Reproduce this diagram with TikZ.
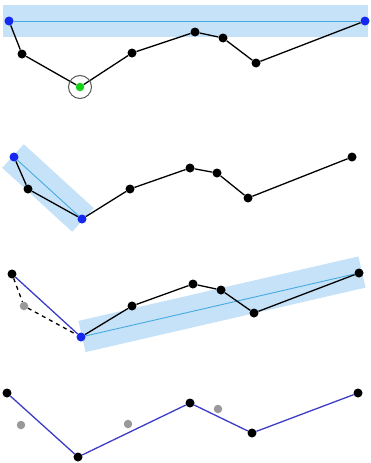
\documentclass[tikz,border=0pt]{standalone}
\definecolor{bandcol}{RGB}{198,226,248}
\definecolor{cyanline}{RGB}{70,170,225}
\definecolor{dotblue}{RGB}{20,40,240}
\definecolor{edgeblue}{RGB}{60,60,200}
\definecolor{dotgreen}{RGB}{20,210,20}
\begin{document}
\begin{tikzpicture}[x=1pt,y=-1pt,
  dot/.style={circle,fill=black,inner sep=0pt,minimum size=9pt},
  bdot/.style={circle,fill=dotblue,inner sep=0pt,minimum size=9pt},
  gdot/.style={circle,fill=black!40,inner sep=0pt,minimum size=8.5pt},
  grdot/.style={circle,fill=dotgreen,inner sep=0pt,minimum size=8.5pt},
  edge/.style={draw=black,line width=1.3pt},
  bedge/.style={draw=edgeblue,line width=1.3pt},
  cedge/.style={draw=cyanline,line width=0.9pt},
  band/.style={draw=bandcol,line width=32pt,line cap=butt}]
\useasboundingbox (0,0) rectangle (370,463);
% ---------- panel 1
\coordinate (b1a) at (3,20.5);
\coordinate (b1b) at (368,20.5);
\draw[band] (b1a) -- (b1b);
\node[bdot] (p1) at (9,21) {};
\node[dot] (p2) at (22,54) {};
\node[grdot] (p3) at (80,87) {};
\node[dot] (p4) at (132,53) {};
\node[dot] (p5) at (195,32) {};
\node[dot] (p6) at (223,38) {};
\node[dot] (p7) at (256,63) {};
\node[bdot] (p8) at (365,21) {};
\draw[cedge] (p1) -- (p8);
\draw[edge] (p1) -- (p2) -- (p3) -- (p4) -- (p5) -- (p6) -- (p7) -- (p8);
\node[circle,draw=black!65,line width=1pt,minimum size=23pt,inner sep=0pt] (c3) at (p3) {};
% ---------- panel 2
\coordinate (b2a) at (13,156);
\coordinate (b2b) at (83,220);
\draw[band] (b2a) -- (b2b);
\node[bdot] (q1) at (14,157) {};
\node[dot] (q2) at (28,189) {};
\node[bdot] (q3) at (82,219) {};
\node[dot] (q4) at (130,189) {};
\node[dot] (q5) at (190,168) {};
\node[dot] (q6) at (217,173) {};
\node[dot] (q7) at (248,198) {};
\node[dot] (q8) at (352,157) {};
\draw[cedge] (q1) -- (q3);
\draw[edge] (q1) -- (q2) -- (q3) -- (q4) -- (q5) -- (q6) -- (q7) -- (q8);
% ---------- panel 3
\coordinate (b3a) at (82,336.5);
\coordinate (b3b) at (362,272);
\draw[band] (b3a) -- (b3b);
\node[dot] (r1) at (12,274) {};
\node[gdot] (rg) at (24,306) {};
\node[bdot] (r2) at (81,337) {};
\node[dot] (r3) at (132,306) {};
\node[dot] (r4) at (193,284) {};
\node[dot] (r5) at (221,290) {};
\node[dot] (r6) at (254,313) {};
\node[dot] (r7) at (359,273) {};
\draw[cedge] (r2) -- (r7);
\draw[edge,dash pattern=on 4pt off 4pt] (r1) -- (rg) -- (r2);
\draw[bedge] (r1) -- (r2);
\draw[edge] (r2) -- (r3) -- (r4) -- (r5) -- (r6) -- (r7);
% ---------- panel 4
\node[dot] (s1) at (7,393) {};
\node[gdot] (sg1) at (21,425) {};
\node[dot] (s2) at (78,457) {};
\node[gdot] (sg2) at (128,424) {};
\node[dot] (s3) at (190,403) {};
\node[gdot] (sg3) at (218,409) {};
\node[dot] (s4) at (252,433) {};
\node[dot] (s5) at (358,393) {};
\draw[bedge] (s1) -- (s2) -- (s3) -- (s4) -- (s5);
\end{tikzpicture}
\end{document}
